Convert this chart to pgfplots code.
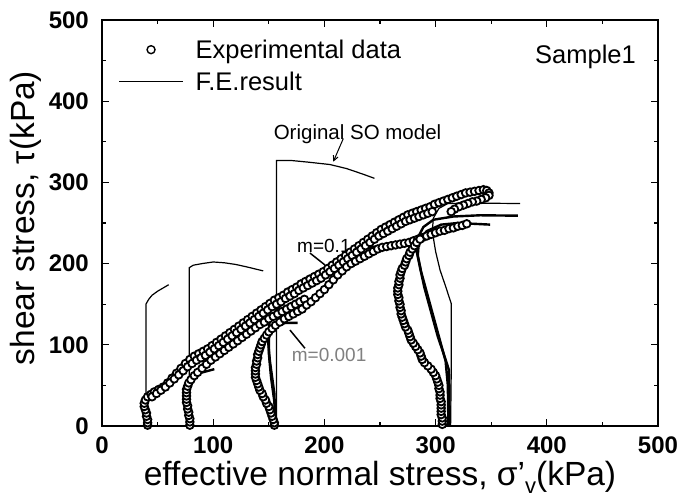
\documentclass[border=0pt]{standalone}
\usepackage{pgfplots}
\pgfplotsset{compat=1.18}
\usepackage{fontspec}
\setmainfont{Liberation Sans}
\usetikzlibrary{arrows.meta}
\begin{document}
\begin{tikzpicture}
\begin{axis}[
 scale only axis, width=556pt, height=406pt,
 xmin=0,xmax=500,ymin=0,ymax=500,
 xtick={0,100,...,500}, ytick={0,100,...,500},
 minor x tick num=1, minor y tick num=1,
 tick align=inside, major tick length=7pt, minor tick length=4pt,
 every tick/.style={black, line width=1.2pt},
 axis line style={line width=1.5pt},
 tick label style={font=\fontsize{24}{24}\selectfont\bfseries, inner sep=0pt},
 /pgf/number format/assume math mode=true,
 yticklabel style={xshift=-13pt},
 xticklabel style={yshift=-11pt},
 xlabel={effective normal stress, σ{\char"0027}\raisebox{-8pt}{\fontsize{22}{22}\selectfont v}(kPa)},
 ylabel={shear stress, τ(kPa)},
 label style={font=\fontsize{33.5}{33.5}\selectfont, inner sep=0pt},
 xlabel style={at={(rel axis cs:0.5,0)}, anchor=base, yshift=-60pt},
 ylabel style={at={(rel axis cs:0,0.5)}, anchor=center, yshift=76pt, xshift=5pt},
 clip=false,
 legend style={draw=none, fill=none, at={(rel axis cs:0,1)}, anchor=north west,
   xshift=16.5pt, yshift=-19.7pt, inner sep=0pt, outer sep=0pt, row sep=12pt,
   font=\fontsize{25.5}{25.5}\selectfont, nodes={inner sep=0pt},
   /tikz/every odd column/.append style={column sep=12pt}},
 legend cell align=left,
]
\addlegendimage{black, no markers, legend image code/.code={\path[draw=none] (0pt,0pt) -- (63.5pt,0pt); \draw[line width=1.4pt, fill=white] (31.75pt,0pt) circle (4pt);}}
\addlegendentry{Experimental data}
\addlegendimage{black, no markers, legend image code/.code={\draw[line width=1.6pt] (0pt,0pt) -- (63.5pt,0pt);}}
\addlegendentry{F.E.result}

% experimental data
\pgfplotsset{expdata/.style={only marks, mark=*, mark size=3.8pt, mark options={fill=white, draw=black, line width=1.8pt}, forget plot}}
\addplot[expdata] coordinates {
(41,1) (41,4) (41,8) (40,12) (40,16) (39,20) (38,24) (38,28) (39,32) (41,36) (44,39) (47,42) (51,45) (55,48) (59,53) (63,59) (67,65) (71,71) (75,77) (79,82) (83,86) (87,89) (91,92) (95,95) (99,99) (103,103) (107,107) (111,111) (115,115) (119,119) (123,123) (127,127) (131,131) (135,135) (139,139) (143,143) (147,147) (151,151) (155,155) (159,158) (163,161) (167,165) (171,168) (175,171) (179,175) (183,178) (187,181) (191,184) (195,187) (199,190) (203,194) (207,198) (211,202) (215,206) (219,210) (223,214) (227,218) (231,222) (235,226) (239,230) (243,234) (247,238) (251,242) (255,245) (259,248) (263,251) (267,254) (271,257) (275,260) (279,262) (283,264) (287,266) (291,268) (295,270) (299,273) (303,275) (307,277) (311,279) (315,281) (319,283) (323,285) (327,287) (331,288) (335,289) (339,290) (343,291) (346,290) (348,287) (348,284) (345,281) (341,279) (337,277) (333,276) (329,274) (325,272) (321,270) (317,267) (314,264)
};
\addplot[expdata] coordinates {
(45,36) (49,40) (53,44) (57,48) (61,53) (65,58) (69,63) (73,68) (77,73) (81,77) (85,81) (89,84) (93,87) (97,91) (101,95) (105,99) (109,103) (113,107) (117,111) (121,115) (125,119) (129,123) (133,127) (137,131) (141,135) (145,139) (149,143) (153,147) (157,150) (161,153) (165,157) (169,160) (173,163) (177,167) (181,170) (185,173) (189,176) (193,179) (197,182) (201,186) (205,190) (209,194) (213,198) (217,202) (221,206) (225,210) (229,214) (233,218) (237,222) (241,226) (245,230) (249,234) (253,237) (257,240) (261,243) (265,246) (269,249) (273,252) (277,254) (281,256) (285,258) (289,260) (293,262) (297,264)
};
\addplot[expdata] coordinates {
(79,1) (79,5) (79,9) (78,13) (78,17) (77,21) (77,25) (76,29) (76,33) (76,37) (76,41) (76,45) (77,49) (78,53) (80,57) (83,62) (86,66) (90,71) (94,76) (98,81) (102,85) (106,89) (110,93) (114,97) (118,101) (122,105) (126,109) (130,113) (134,117) (138,121) (142,125) (146,128) (150,132) (154,135) (158,138) (162,141) (166,144) (170,147) (174,150) (178,153) (182,156)
};
\addplot[expdata] coordinates {
(155,1) (155,4) (154,8) (153,12) (152,16) (151,20) (150,24) (148,28) (147,32) (145,36) (144,40) (142,44) (141,48) (140,52) (139,56) (138,60) (138,64) (138,68) (138,72) (139,76) (139,80) (140,84) (140,88) (141,92) (142,96) (143,100) (144,104) (146,108) (148,112) (150,116) (153,120) (156,124) (160,128) (164,132) (168,135) (172,138) (176,141) (180,144) (184,149) (188,153) (192,158) (196,163) (200,168) (204,174) (208,180) (212,186) (216,191) (220,196) (224,200) (228,203) (232,206) (236,209) (240,212) (244,215) (248,218) (252,220) (256,221) (260,222) (264,223) (268,224) (272,225) (276,226) (280,228) (284,230) (288,232) (292,234) (296,236) (300,238) (304,240) (308,241) (312,243) (316,244) (320,246) (324,247) (328,249)
};
\addplot[expdata] coordinates {
(306,2) (306,6) (306,10) (305,14) (305,18) (305,22) (305,26) (305,30) (304,34) (304,38) (304,42) (303,46) (303,50) (302,54) (301,58) (300,62) (298,66) (296,70) (293,74) (290,78) (288,82) (287,86) (286,90) (284,94) (282,98) (280,102) (278,106) (277,110) (276,114) (275,118) (273,122) (272,126) (271,130) (270,134) (269,138) (269,142) (268,146) (268,150) (267,154) (267,158) (266,162) (266,166) (266,170) (267,174) (267,178) (268,182) (268,186) (269,190) (270,194) (272,198) (273,202) (274,206) (276,210) (277,214) (279,218) (281,222) (283,226) (286,230)
};

% F.E. results, thick
\pgfplotsset{fethick/.style={line width=2.4pt, black, forget plot}, fethin/.style={line width=1.2pt, black, forget plot}}
\addplot[fethick] coordinates {(39,0) (38.5,20) (39,32) (45,40) (55,47) (65,57) (75,70) (85,80)};
\addplot[fethick] coordinates {(79,0) (78,25) (77,45) (79,58) (85,64) (93,67) (101,70)};
\addplot[fethick] coordinates {(79,0) (78,30) (78,50) (82,62) (90,75) (100,90) (115,105) (130,120) (150,140)};
\addplot[fethick] coordinates {(156,0) (155,30) (152,60) (150,90) (150,110) (155,122) (165,127) (176,127)};
\addplot[fethick] coordinates {(156,0) (155,40) (151,80) (149,110) (151,130) (158,145) (170,160) (185,177) (200,195) (215,209) (230,217) (259,224) (277,222) (286,222)};
\addplot[fethick] coordinates {(312.5,0) (312.5,40) (312,69) (307,90) (302,110) (296,140) (290,170) (286,195) (283,215) (284,232) (289,245) (298,254) (316,258) (340,259.5) (374,259)};
\addplot[fethick] coordinates {(311.5,0) (311,50) (309,80) (303,110) (297,140) (292,165) (287,190) (284,210) (285,228) (292,240) (305,248) (320,250) (349,248)};

% Original SO model, thin
\addplot[fethin] coordinates {(39.5,0) (39.5,150) (42,156) (45,161) (50,166) (55,170) (60,174)};
\addplot[fethin] coordinates {(78.5,0) (78.5,195) (82,198) (90,200) (100,202) (110,201) (120,199) (130,196) (145,191)};
\addplot[fethin] coordinates {(157,0) (157,327) (170,327) (185,325) (205,322) (220,317) (235,310) (245,305)};
\addplot[fethin] coordinates {(313.5,0) (314,60) (314,151) (309,172) (304,192) (300,215) (297,240) (298,256) (303,268) (311,274) (330,274.5) (376,274)};

% annotations
\node[anchor=west, font=\fontsize{20.5}{20.5}\selectfont, inner sep=0pt] at (axis cs:154.3,359.9) {Original SO model};
\draw[line width=1pt, -{Straight Barb[length=5pt,width=5pt]}] (axis cs:217,354) -- (axis cs:208,325.5);
\node[anchor=west, font=\fontsize{19}{19}\selectfont, inner sep=0pt] at (axis cs:175.4,221.7) {m=0.1};
\draw[line width=1.5pt] (axis cs:187,213) -- (axis cs:200.5,198.3);
\node[anchor=west, font=\fontsize{19}{19}\selectfont, inner sep=0pt, text=black!50] at (axis cs:170.6,87.4) {m=0.001};
\draw[line width=1.5pt] (axis cs:182.5,95.7) -- (axis cs:169,118.2);
\node[anchor=base east, font=\fontsize{25.5}{25.5}\selectfont, inner sep=0pt] at (rel axis cs:1,1) [xshift=-22pt, yshift=-44pt] {Sample1};
\end{axis}
\pgfresetboundingbox
\path ([xshift=-102pt,yshift=-76pt]current axis.south west) rectangle ([xshift=24pt,yshift=20pt]current axis.north east);
\end{tikzpicture}
\end{document}
